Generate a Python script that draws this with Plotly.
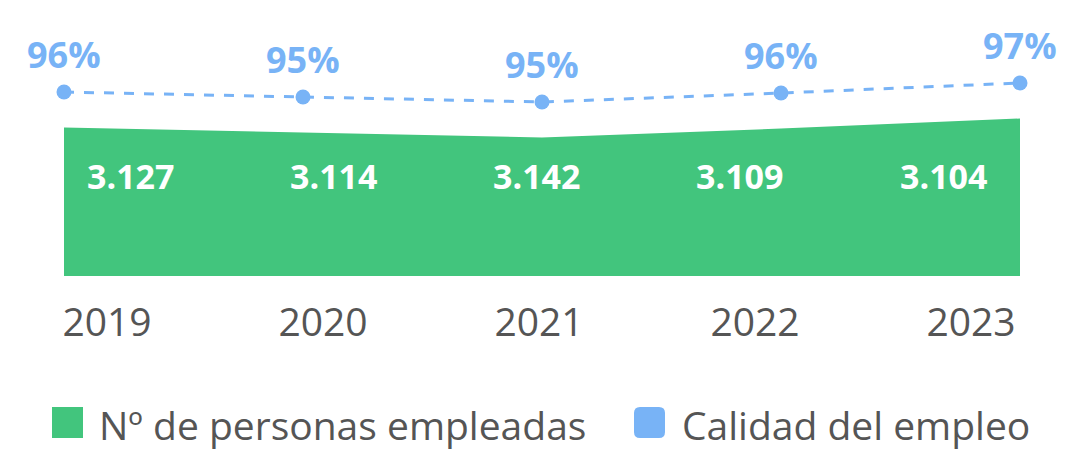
import plotly.graph_objects as go

# ---- data ----
years = [2019, 2020, 2021, 2022, 2023]
empleados = [3127, 3114, 3142, 3109, 3104]
calidad = [95.9, 95.4, 94.9, 95.8, 96.8]
serie_area = "Nº de personas empleadas"
serie_linea = "Calidad del empleo"

GREEN = "#42c57d"
BLUE = "#78b3f6"
GREY = "#555555"

OFF = 8  # page body margin
W, H = 1073 - OFF, 452 - OFF
ML, MR, MT, MB = 64 - OFF, 53, 20 - OFF, 176
PW, PH = W - ML - MR, H - MT - MB


def px_x(p):
    return (p - OFF - ML) / PW


def px_y(p):
    return (H - MB - (p - OFF)) / PH


fig = go.Figure()

# green area (shape follows the quality series, drawn on its own overlay axis)
fig.add_trace(go.Scatter(
    x=years, y=calidad, xaxis="x", yaxis="y2", mode="lines",
    line=dict(width=0, color=GREEN), fill="tozeroy", fillcolor=GREEN,
    name=serie_area, showlegend=False, hoverinfo="skip"))

# dashed quality line
fig.add_trace(go.Scatter(
    x=years, y=calidad, xaxis="x", yaxis="y", mode="lines+markers",
    line=dict(color=BLUE, width=3, dash="10px,10px"),
    marker=dict(size=15, color=BLUE),
    name=serie_linea, showlegend=False, cliponaxis=False, hoverinfo="skip"))

# helper traces so the label axes exist
fig.add_trace(go.Scatter(x=list(range(len(years))), y=[None] * len(years),
                         xaxis="x2", yaxis="y", showlegend=False, hoverinfo="skip"))
fig.add_trace(go.Scatter(x=list(range(len(years))), y=[None] * len(years),
                         xaxis="x3", yaxis="y", showlegend=False, hoverinfo="skip"))

annotations = []
for yr, v in zip(years, calidad):
    annotations.append(dict(
        x=yr, y=v, xref="x", yref="y", yshift=38, showarrow=False,
        text=f"{round(v)}%", font=dict(family="Open Sans", size=36, color=BLUE, weight="bold")))

for i, v in enumerate(empleados):
    annotations.append(dict(
        x=i, y=px_y(176), xref="x3", yref="paper", showarrow=False,
        text=f"{v:,}".replace(",", "."),
        font=dict(family="Open Sans", size=34, color="white", weight="bold")))

# custom legend
shapes = [
    dict(type="rect", xref="paper", yref="paper",
         x0=px_x(52), x1=px_x(83), y0=px_y(438), y1=px_y(407),
         fillcolor=GREEN, line=dict(width=0)),
]
# rounded blue square
x0, x1, y0, y1, r = 634, 665, 407, 438, 6
pts = (f"M {px_x(x0 + r)} {px_y(y0)} L {px_x(x1 - r)} {px_y(y0)} "
       f"Q {px_x(x1)} {px_y(y0)} {px_x(x1)} {px_y(y0 + r)} "
       f"L {px_x(x1)} {px_y(y1 - r)} Q {px_x(x1)} {px_y(y1)} {px_x(x1 - r)} {px_y(y1)} "
       f"L {px_x(x0 + r)} {px_y(y1)} Q {px_x(x0)} {px_y(y1)} {px_x(x0)} {px_y(y1 - r)} "
       f"L {px_x(x0)} {px_y(y0 + r)} Q {px_x(x0)} {px_y(y0)} {px_x(x0 + r)} {px_y(y0)} Z")
shapes.append(dict(type="path", xref="paper", yref="paper", path=pts,
                   fillcolor=BLUE, line=dict(width=0)))

annotations.append(dict(x=px_x(97), y=px_y(424), xref="paper", yref="paper",
                        xanchor="left", yanchor="middle", showarrow=False,
                        text=serie_area, font=dict(family="Open Sans", size=39, color=GREY)))
annotations.append(dict(x=px_x(680), y=px_y(424), xref="paper", yref="paper",
                        xanchor="left", yanchor="middle", showarrow=False,
                        text=serie_linea, font=dict(family="Open Sans", size=39, color=GREY)))

hidden = dict(visible=False, showgrid=False, zeroline=False)
fig.update_layout(
    width=W, height=H,
    margin=dict(l=ML, r=MR, t=MT, b=MB),
    paper_bgcolor="white", plot_bgcolor="white",
    showlegend=False,
    xaxis=dict(range=[years[0], years[-1]], **hidden),
    yaxis=dict(range=[77.5, 103.1], **hidden),
    yaxis2=dict(range=[81.05, 106.65], overlaying="y", **hidden),
    xaxis2=dict(range=[-0.199, 4.227], overlaying="x", anchor="y", side="bottom",
                tickvals=list(range(len(years))), ticktext=[str(y) for y in years],
                showgrid=False, zeroline=False, showline=False, ticks="",
                ticklabelstandoff=20,
                tickfont=dict(family="Open Sans", size=39, color=GREY)),
    xaxis3=dict(range=[-0.3247, 4.3788], overlaying="x", anchor="y", **hidden),
    annotations=annotations,
    shapes=shapes,
)

fig.write_html("out.html")
